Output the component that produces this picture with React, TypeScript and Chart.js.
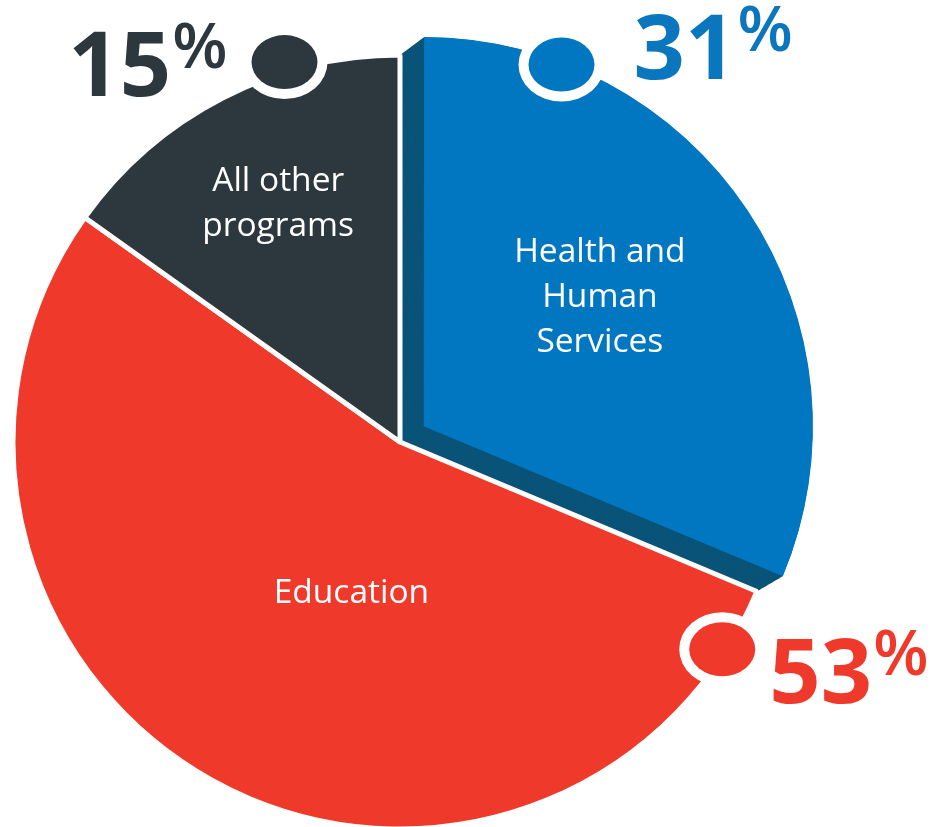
import React, { useEffect, useRef } from 'react';
import { Chart, registerables } from 'chart.js';

Chart.register(...registerables);

// ---- data ----
const categories = ['Health and Human Services', 'Education', 'All other programs'];
const labelLines = [['Health and', 'Human', 'Services'], ['Education'], ['All other', 'programs']];
const shares = [31, 53, 15];
const shareLabels = ['31%', '53%', '15%'];

// ---- styles ----
const sliceColors = ['#0277c1', '#ef3a2b', '#2c373e'];
const textColors = ['#0a76bd', '#ef3a2b', '#2c373e'];
const SIDE_COLOR = '#0b5479';
const RAISED = 0;
const RAISE_OFFSET = 114;
// label placement: fraction along slice angle, fraction of radius
const labelPlace = [
  { f: 0.47, r: 0.57 },
  { f: 0.444, r: 0.4 },
  { f: 0.51, r: 0.7 },
];
const markerPlace = [
  { f: 0.185, r: 1.0, dx: 72, dy: 14, align: 'left' },
  { f: 0.052, r: 0.99, dx: 47, dy: 54, align: 'left' },
  { f: 0.69, r: 1.026, dx: -58, dy: 34, align: 'right' },
];

function arcShift(arc: any, off: number) {
  const half = (arc.startAngle + arc.endAngle) / 2;
  return { x: Math.cos(half) * off / 4, y: Math.sin(half) * off / 4 };
}

const piePlugin = {
  id: 'piePlugin',
  beforeDatasetsDraw(chart: any) {
    const meta = chart.getDatasetMeta(0);
    const arc = meta.data[RAISED];
    if (!arc) return;
    const orig = arc.options;
    const ctx = chart.ctx;
    const maxOff = orig.offset || 0;
    for (let o = 0; o < maxOff; o += 2) {
      arc.options = Object.assign({}, orig, { offset: o, backgroundColor: SIDE_COLOR, borderWidth: 0 });
      arc.draw(ctx);
    }
    arc.options = orig;
  },
  afterDatasetsDraw(chart: any) {
    const meta = chart.getDatasetMeta(0);
    const ctx = chart.ctx;
    meta.data.forEach((arc: any, i: number) => {
      const off = i === RAISED ? RAISE_OFFSET : 0;
      const s = arcShift(arc, off);
      const cx = arc.x + s.x;
      const cy = arc.y + s.y;
      const R = arc.outerRadius;
      // slice label
      const lp = labelPlace[i];
      const la = arc.startAngle + (arc.endAngle - arc.startAngle) * lp.f;
      const lx = cx + Math.cos(la) * R * lp.r;
      const ly = cy + Math.sin(la) * R * lp.r + 4;
      const lines = labelLines[i];
      const lh = 45;
      ctx.save();
      ctx.fillStyle = '#ffffff';
      ctx.font = '400 33.5px "Open Sans"';
      ctx.textAlign = 'center';
      ctx.textBaseline = 'middle';
      lines.forEach((t, k) => {
        ctx.fillText(t, lx, ly + (k - (lines.length - 1) / 2) * lh);
      });
      ctx.restore();

      // marker
      const mp = markerPlace[i];
      const ma = arc.startAngle + (arc.endAngle - arc.startAngle) * mp.f;
      const mx = cx + Math.cos(ma) * R * mp.r;
      const my = cy + Math.sin(ma) * R * mp.r;
      ctx.save();
      ctx.fillStyle = '#ffffff';
      ctx.beginPath();
      ctx.ellipse(mx, my, 43, 37, 0, 0, Math.PI * 2);
      ctx.fill();
      ctx.fillStyle = sliceColors[i];
      ctx.beginPath();
      ctx.ellipse(mx, my, 33, 27, 0, 0, Math.PI * 2);
      ctx.fill();

      // percentage
      const label = shareLabels[i];
      const digits = label.replace('%', '');
      ctx.fillStyle = textColors[i];
      ctx.textBaseline = 'alphabetic';
      ctx.textAlign = 'left';
      const digFont = '700 90px "Open Sans"';
      const pctFont = '600 64px "Open Sans"';
      ctx.font = digFont;
      const dw = ctx.measureText(digits).width;
      ctx.font = pctFont;
      const pw = ctx.measureText('%').width;
      const bx = mx + mp.dx;
      const by = my + mp.dy;
      const startX = mp.align === 'left' ? bx : bx - dw - pw;
      ctx.font = digFont;
      ctx.fillText(digits, startX, by);
      ctx.font = pctFont;
      ctx.fillText('%', startX + dw + 1, by - 28);
      ctx.restore();
    });
  },
};

export default function App() {
  const ref = useRef<HTMLCanvasElement>(null);
  useEffect(() => {
    if (!ref.current) return;
    const chart = new Chart(ref.current, {
      type: 'pie',
      data: {
        labels: categories,
        datasets: [
          {
            data: shares,
            backgroundColor: sliceColors,
            borderColor: '#ffffff',
            borderWidth: [0, 5, 5],
            offset: [RAISE_OFFSET, 0, 0],
          },
        ],
      },
      options: {
        responsive: false,
        animation: false,
        events: [],
        radius: 387,
        layout: { padding: { left: 15, right: 157, top: 57, bottom: 0 } },
        plugins: {
          legend: { display: false },
          tooltip: { enabled: false },
        },
      },
      plugins: [piePlugin],
    } as any);
    return () => chart.destroy();
  }, []);
  return (
    <div style={{ position: 'absolute', left: 0, top: 0, width: 942, height: 827, background: '#ffffff' }}>
      <canvas ref={ref} width={942} height={827} style={{ display: 'block' }} />
    </div>
  );
}
